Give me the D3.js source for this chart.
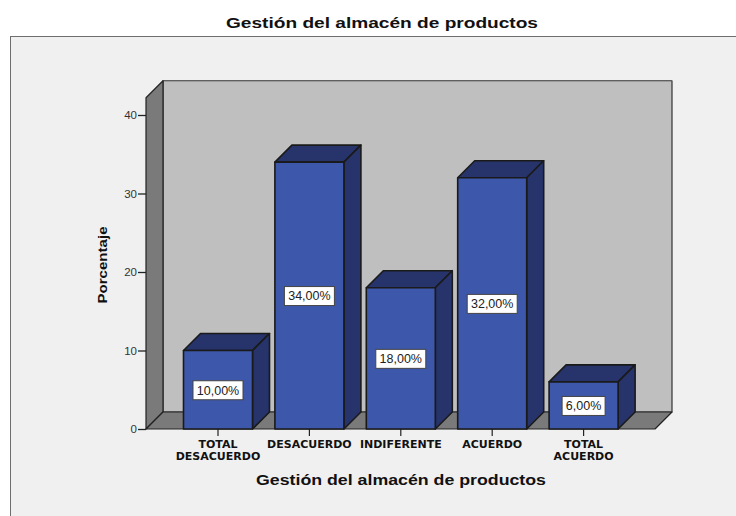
<!DOCTYPE html>
<html><head><meta charset="utf-8">
<script src="https://cdn.jsdelivr.net/npm/d3@7"></script>
<style>html,body{margin:0;padding:0;background:#fff}svg{display:block}text{font-family:"Liberation Sans",Arial,sans-serif;fill:#111}</style>
</head><body><div id="c"></div>
<script>
const categories=[["TOTAL","DESACUERDO"],["DESACUERDO"],["INDIFERENTE"],["ACUERDO"],["TOTAL","ACUERDO"]];
const values=[10,34,18,32,6];
const valueLabels=["10,00%","34,00%","18,00%","32,00%","6,00%"];
const yTicks=[0,10,20,30,40];
const title="Gestión del almacén de productos";
const yTitle="Porcentaje";

const svg=d3.select("#c").append("svg").attr("width",736).attr("height",516);
const dx=17,dy=17,line="#1a1a1a";
const y=d3.scaleLinear().domain([0,40]).range([429,115]);
const x=d3.scaleBand().domain(d3.range(5)).range([172.3,629.3]).paddingInner(.245).paddingOuter(.1225);
const L=146,R=655,B=429,T=y(42.2)+0;
const poly=(pts,fill,sw=1.6,stroke=line)=>svg.append("path").attr("d","M"+pts.map(p=>p.join(",")).join("L")+"Z").attr("fill",fill).attr("stroke",stroke).attr("stroke-width",sw).attr("stroke-linejoin","round");

svg.append("rect").attr("x",10.5).attr("y",36.5).attr("width",740).attr("height",500).attr("fill","#f0f0f0").attr("stroke","#6e6e6e").attr("stroke-width",1);
svg.append("text").attr("x",382).attr("y",28).attr("text-anchor","middle").attr("font-size",15).attr("font-weight","bold").attr("textLength",312).attr("lengthAdjust","spacingAndGlyphs").text(title);

// walls
poly([[L+dx,T-dy],[R+dx,T-dy],[R+dx,B-dy],[L+dx,B-dy]],"#bfbfbf",1.2,"#333");
poly([[L,T],[L+dx,T-dy],[L+dx,B-dy],[L,B]],"#7a7a7a",1.2,"#222");
poly([[L,B],[L+dx,B-dy],[R+dx,B-dy],[R,B]],"#7a7a7a",1.2,"#222");

// y axis ticks
const yg=svg.append("g").attr("transform",`translate(${L},0)`)
 .call(d3.axisLeft(y).tickValues(yTicks).tickSize(8).tickPadding(1).tickFormat(d3.format("d")));
yg.select(".domain").remove();
yg.selectAll("line").attr("stroke","#222").attr("stroke-width",1.3);
yg.selectAll("text").attr("font-size",11.5).style("fill","#333");

// x axis ticks and labels
const xg=svg.append("g").attr("transform",`translate(0,${B})`)
 .call(d3.axisBottom(x).tickSize(7).tickFormat(""));
xg.select(".domain").remove();
xg.selectAll("line").attr("stroke","#222").attr("stroke-width",1.2);
categories.forEach((c,i)=>{
  const t=svg.append("text").attr("text-anchor","middle").style("font-family","'DejaVu Sans'").attr("font-size",11).attr("font-weight","bold");
  c.forEach((s,j)=>t.append("tspan").attr("x",x(i)+x.bandwidth()/2).attr("y",448+j*11.5).text(s));
});

// bars
values.forEach((v,i)=>{
  const a=x(i),b=a+x.bandwidth(),t=y(v);
  poly([[a,t],[a+dx,t-dy],[b+dx,t-dy],[b,t]],"#26346b");
  poly([[b,t],[b+dx,t-dy],[b+dx,B-dy],[b,B]],"#26346b");
  poly([[a,t],[b,t],[b,B],[a,B]],"#3d58aa");
});
// value labels
values.forEach((v,i)=>{
  const cx=x(i)+x.bandwidth()/2,cy=y(v/2)+0.5,w=valueLabels[i].length===5?43:50;
  svg.append("rect").attr("x",cx-w/2).attr("y",cy-9.5).attr("width",w).attr("height",19).attr("fill","#fff").attr("stroke","#444").attr("stroke-width",1);
  svg.append("text").attr("x",cx).attr("y",cy+4.3).attr("text-anchor","middle").attr("font-size",12.5).style("fill","#222").text(valueLabels[i]);
});
svg.append("text").attr("transform","translate(107,265) rotate(-90)").attr("text-anchor","middle").attr("font-size",13.5).attr("font-weight","bold").attr("textLength",77).attr("lengthAdjust","spacingAndGlyphs").text(yTitle);
svg.append("text").attr("x",401).attr("y",485).attr("text-anchor","middle").attr("font-size",15).attr("font-weight","bold").attr("textLength",290).attr("lengthAdjust","spacingAndGlyphs").text(title);
</script></body></html>
